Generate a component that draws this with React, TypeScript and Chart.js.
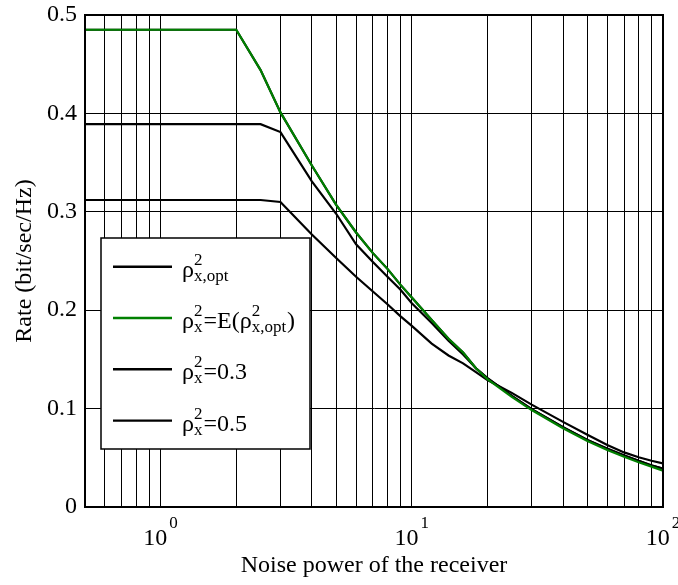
import React, { useEffect, useRef } from "react";
import { Chart, registerables } from "chart.js";

Chart.register(...registerables);

const SERIF = '"Liberation Serif", "Times New Roman", serif';

// Noise power values (x) shared by all series
const noisePower = [0.5, 1, 2, 2.5, 3, 4, 5, 6, 7, 8, 9, 10, 12, 14, 16, 18, 20, 25, 30, 40, 50, 60, 70, 80, 90, 100];

// Rate series (bit/sec/Hz)
const rateOpt = [0.485, 0.485, 0.485, 0.444, 0.401, 0.347, 0.307, 0.279, 0.258, 0.242, 0.226, 0.213, 0.19, 0.171, 0.157, 0.141, 0.131, 0.113, 0.0995, 0.081, 0.068, 0.0595, 0.0525, 0.047, 0.0425, 0.039];
const rateExpOpt = [0.485, 0.485, 0.485, 0.444, 0.401, 0.347, 0.307, 0.279, 0.258, 0.242, 0.226, 0.213, 0.19, 0.171, 0.157, 0.141, 0.13, 0.112, 0.0985, 0.08, 0.067, 0.058, 0.051, 0.0455, 0.041, 0.037];
const rateRho03 = [0.312, 0.312, 0.312, 0.312, 0.31, 0.277, 0.253, 0.234, 0.219, 0.206, 0.194, 0.184, 0.166, 0.154, 0.146, 0.137, 0.129, 0.116, 0.104, 0.0865, 0.0735, 0.063, 0.0555, 0.0505, 0.047, 0.0444];
const rateRho05 = [0.389, 0.389, 0.389, 0.389, 0.381, 0.331, 0.298, 0.267, 0.249, 0.234, 0.221, 0.207, 0.187, 0.169, 0.155, 0.141, 0.131, 0.113, 0.0995, 0.081, 0.068, 0.059, 0.052, 0.047, 0.042, 0.039];

// Axis ticks
const xGridValues = [0.5, 0.6, 0.7, 0.8, 0.9, 1, 2, 3, 4, 5, 6, 7, 8, 9, 10, 20, 30, 40, 50, 60, 70, 80, 90, 100];
const xLabelValues = [1, 10, 100];
const xLabelExponents = ["0", "1", "2"];
const yMin = 0;
const yMax = 0.5;
const yStep = 0.1;

const xTitle = "Noise power of the receiver";
const yTitle = "Rate (bit/sec/Hz)";

// Legend entries: rich text segments (normal text, or stacked superscript/subscript)
type Seg = { n?: string; sup?: string; sub?: string };
const legendLabels: Seg[][] = [
  [{ n: "ρ" }, { sup: "2", sub: "x,opt" }],
  [{ n: "ρ" }, { sup: "2", sub: "x" }, { n: "=E(" }, { n: "ρ" }, { sup: "2", sub: "x,opt" }, { n: ")" }],
  [{ n: "ρ" }, { sup: "2", sub: "x" }, { n: "=0.3" }],
  [{ n: "ρ" }, { sup: "2", sub: "x" }, { n: "=0.5" }],
];
const BLACK = "#000000";
const GREEN = "rgb(0,128,0)";
const legendColors = [BLACK, GREEN, BLACK, BLACK];

const toPts = (ys: number[]) => noisePower.map((x, i) => ({ x, y: ys[i] }));

const overlayPlugin = {
  id: "overlay",
  afterDraw(chart: any) {
    const ctx: CanvasRenderingContext2D = chart.ctx;
    const { left, right, top, bottom } = chart.chartArea;
    ctx.save();
    // frame
    ctx.strokeStyle = BLACK;
    ctx.lineWidth = 2;
    ctx.strokeRect(left, top, right - left, bottom - top);

    // x tick labels with superscript exponents
    const xs = chart.scales.x;
    ctx.fillStyle = BLACK;
    ctx.textBaseline = "alphabetic";
    ctx.textAlign = "left";
    xLabelValues.forEach((v, i) => {
      const px = xs.getPixelForValue(v);
      ctx.font = `24px ${SERIF}`;
      const w1 = ctx.measureText("10").width;
      ctx.font = `17px ${SERIF}`;
      const w2 = ctx.measureText(xLabelExponents[i]).width;
      const x0 = px - (w1 + w2 + 2) / 2;
      ctx.font = `24px ${SERIF}`;
      ctx.fillText("10", x0, bottom + 38);
      ctx.font = `17px ${SERIF}`;
      ctx.fillText(xLabelExponents[i], x0 + w1 + 2, bottom + 21);
    });

    // legend box
    const bx = left + 16;
    const by = top + 223;
    const bw = 209;
    const bh = 211;
    ctx.fillStyle = "#ffffff";
    ctx.fillRect(bx, by, bw, bh);
    ctx.strokeStyle = BLACK;
    ctx.lineWidth = 1.5;
    ctx.strokeRect(bx, by, bw, bh);

    legendLabels.forEach((segs, i) => {
      const cy = by + 28.7 + i * 51.3;
      ctx.strokeStyle = legendColors[i];
      ctx.lineWidth = 2.4;
      ctx.beginPath();
      ctx.moveTo(bx + 12, cy);
      ctx.lineTo(bx + 71, cy);
      ctx.stroke();
      ctx.fillStyle = BLACK;
      let x = bx + 81;
      segs.forEach((s) => {
        if (s.n !== undefined) {
          ctx.font = `24px ${SERIF}`;
          ctx.fillText(s.n, x, cy + 10);
          x += ctx.measureText(s.n).width;
        } else {
          ctx.font = `17px ${SERIF}`;
          const ws = ctx.measureText(s.sup || "").width;
          const wb = ctx.measureText(s.sub || "").width;
          ctx.fillText(s.sup || "", x, cy - 2);
          ctx.fillText(s.sub || "", x, cy + 14);
          x += Math.max(ws, wb) + 1;
        }
      });
    });
    ctx.restore();
  },
};

export default function App() {
  const ref = useRef<HTMLCanvasElement | null>(null);
  useEffect(() => {
    if (!ref.current) return;
    const ds = (label: string, ys: number[], color: string) => ({
      label,
      data: toPts(ys),
      borderColor: color,
      backgroundColor: color,
      borderWidth: 2.2,
      pointRadius: 0,
      tension: 0,
      fill: false,
    });
    const chart = new Chart(ref.current, {
      type: "line",
      data: {
        datasets: [
          ds("E(rho opt)", rateExpOpt, GREEN),
          ds("rho opt", rateOpt, BLACK),
          ds("rho 0.3", rateRho03, BLACK),
          ds("rho 0.5", rateRho05, BLACK),
        ],
      },
      options: {
        animation: false,
        responsive: false,
        devicePixelRatio: 1,
        layout: { padding: { top: 15, right: 15, left: 0, bottom: 0 } },
        plugins: { legend: { display: false }, tooltip: { enabled: false } },
        scales: {
          x: {
            type: "logarithmic",
            min: 0.5,
            max: 100,
            afterBuildTicks: (scale: any) => {
              scale.ticks = xGridValues.map((v) => ({ value: v }));
            },
            afterFit: (scale: any) => {
              scale.height = 78;
              scale.paddingLeft = 0;
              scale.paddingRight = 0;
            },
            ticks: { display: false, autoSkip: false },
            grid: { color: BLACK, lineWidth: 1, drawTicks: false },
            border: { display: true, color: BLACK, width: 2 },
            title: {
              display: true,
              text: xTitle,
              color: BLACK,
              font: { family: SERIF, size: 24 },
              padding: { top: 0, bottom: 5 },
            },
          },
          y: {
            type: "linear",
            min: yMin,
            max: yMax,
            afterFit: (scale: any) => {
              scale.width = 85;
              scale.paddingTop = 0;
              scale.paddingBottom = 0;
            },
            ticks: {
              stepSize: yStep,
              padding: 8,
              color: BLACK,
              font: { family: SERIF, size: 24 },
              callback: (v: any) => (Number(v) === 0 ? "0" : Number(v).toFixed(1)),
            },
            grid: { color: BLACK, lineWidth: 1, drawTicks: false },
            border: { display: true, color: BLACK, width: 2 },
            title: {
              display: true,
              text: yTitle,
              color: BLACK,
              font: { family: SERIF, size: 24 },
              padding: { top: 10, bottom: 0 },
            },
          },
        },
      },
      plugins: [overlayPlugin],
    } as any);
    return () => chart.destroy();
  }, []);
  return (
    <div style={{ position: "absolute", left: 0, top: 0, width: 678, height: 585, background: "#fff" }}>
      <canvas ref={ref} width={678} height={585} style={{ width: 678, height: 585, display: "block" }} />
    </div>
  );
}
